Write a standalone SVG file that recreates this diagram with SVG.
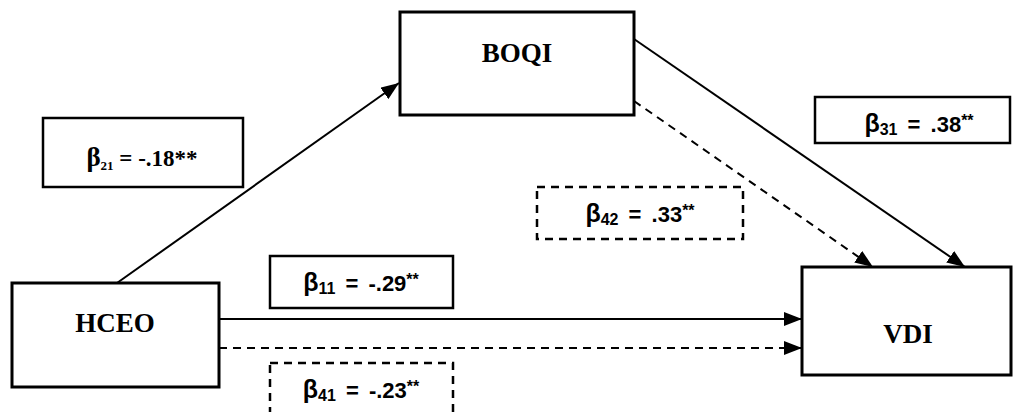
<svg xmlns="http://www.w3.org/2000/svg" width="1015" height="412" viewBox="0 0 1015 412">
<defs>
<marker id="ah" markerWidth="18" markerHeight="14" refX="18" refY="7" orient="auto" markerUnits="userSpaceOnUse">
<path d="M0,0 L18,7 L0,14 Z" fill="#000"/>
</marker>
<style>
.node{fill:#fff;stroke:#000;stroke-width:3}
.lab{fill:#fff;stroke:#000;stroke-width:2.5}
.dash{stroke-dasharray:8,6}
.tn{font-family:"Liberation Serif",serif;font-weight:bold;font-size:27px;text-anchor:middle;fill:#000}
.ta{font-family:"Liberation Sans",sans-serif;font-weight:bold;font-size:22px;text-anchor:middle;fill:#000;word-spacing:4px}
.ts{font-family:"Liberation Serif",serif;font-weight:bold;font-size:23px;text-anchor:middle;fill:#000}
.con{stroke:#000;stroke-width:2;fill:none}
</style>
</defs>
<g id="connectors">
<line class="con" x1="117" y1="283" x2="399" y2="83" marker-end="url(#ah)"/>
<line class="con" x1="634" y1="39" x2="965" y2="267" marker-end="url(#ah)"/>
<line class="con dash" x1="634" y1="101" x2="873" y2="267" marker-end="url(#ah)"/>
<line class="con" x1="219" y1="319" x2="802" y2="319" marker-end="url(#ah)"/>
<line class="con dash" x1="219" y1="348" x2="802" y2="348" marker-end="url(#ah)"/>
</g>
<g id="HCEO">
<rect class="node" x="12" y="283" width="207" height="104"/>
<text class="tn" x="115" y="332">HCEO</text>
</g>
<g id="BOQI">
<rect class="node" x="400" y="12" width="234" height="103"/>
<text class="tn" x="517" y="62">BOQI</text>
</g>
<g id="VDI">
<rect class="node" x="802" y="267" width="209" height="108"/>
<text class="tn" x="908" y="343">VDI</text>
</g>
<g id="b21">
<rect class="lab" x="43" y="118" width="200" height="69"/>
<text class="ts" x="142" y="166"><tspan font-size="27">β</tspan><tspan font-size="13" dy="4">21</tspan><tspan dy="-4"> = -.18**</tspan></text>
</g>
<g id="b31">
<rect class="lab" x="815" y="97" width="195" height="46"/>
<text class="ta" x="919" y="132"><tspan font-size="25">β</tspan><tspan font-size="16" dy="3">31</tspan><tspan dy="-3"> = .38</tspan><tspan font-size="16" dy="-6">**</tspan></text>
</g>
<g id="b42">
<rect class="lab dash" x="537" y="187" width="206" height="52"/>
<text class="ta" x="640" y="222"><tspan font-size="25">β</tspan><tspan font-size="16" dy="3">42</tspan><tspan dy="-3"> = .33</tspan><tspan font-size="16" dy="-6">**</tspan></text>
</g>
<g id="b11">
<rect class="lab" x="270" y="256" width="183" height="52"/>
<text class="ta" x="361" y="291"><tspan font-size="25">β</tspan><tspan font-size="16" dy="3">11</tspan><tspan dy="-3"> = -.29</tspan><tspan font-size="16" dy="-6">**</tspan></text>
</g>
<g id="b41">
<rect class="lab dash" x="270" y="363" width="183" height="60"/>
<text class="ta" x="361" y="398"><tspan font-size="25">β</tspan><tspan font-size="16" dy="3">41</tspan><tspan dy="-3"> = -.23</tspan><tspan font-size="16" dy="-6">**</tspan></text>
</g>
</svg>
